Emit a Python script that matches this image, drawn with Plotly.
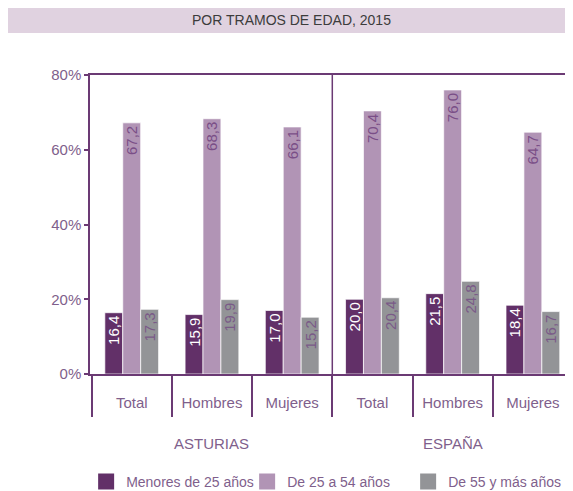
import plotly.graph_objects as go

regions = ["ASTURIAS", "ESPAÑA"]
groups = ["Total", "Hombres", "Mujeres", "Total", "Hombres", "Mujeres"]
series_names = ["Menores de 25 años", "De 25 a 54 años", "De 55 y más años"]
menores_25 = [16.4, 15.9, 17.0, 20.0, 21.5, 18.4]
de_25_54 = [67.2, 68.3, 66.1, 70.4, 76.0, 64.7]
de_55_mas = [17.3, 19.9, 15.2, 20.4, 24.8, 16.7]
y_ticks = [0, 20, 40, 60, 80]
title_text = "POR TRAMOS DE EDAD, 2015"

colors = ["#623068", "#b194b5", "#939497"]
text_colors = ["#ffffff", "#7a4e87", "#7a5a88"]
axis_color = "#6b3a74"
label_color = "#7f5f8c"
FONT = "Liberation Sans, Arial, sans-serif"

xpos = list(range(len(groups)))
fig = go.Figure()
for name, vals, c, tc in zip(series_names, [menores_25, de_25_54, de_55_mas], colors, text_colors):
    fig.add_trace(go.Bar(
        x=xpos, y=vals, name=name, marker=dict(color=c, line=dict(color="rgba(255,255,255,0.7)", width=1)),
        text=[f"{v:.1f}".replace(".", ",") for v in vals],
        textposition="inside", insidetextanchor="end", textangle=-90,
        textfont=dict(color=tc, size=15, family=FONT),
        constraintext="none", showlegend=False,
    ))
    fig.add_trace(go.Scatter(
        x=[None], y=[None], mode="markers", name=name,
        marker=dict(symbol="square", size=16, color=c),
    ))

n = len(groups)
per_region = n // len(regions)
boundaries = [i - 0.5 for i in range(n)]

fig.update_layout(
    width=565, height=483,
    margin=dict(l=82, r=0, t=67, b=117, autoexpand=False),
    paper_bgcolor="white", plot_bgcolor="white",
    barmode="group", bargap=0.33, bargroupgap=0,
    font=dict(family=FONT, color=label_color, size=15),
    showlegend=True,
    legend=dict(orientation="h", xref="paper", yref="paper",
                x=-0.008, xanchor="left", y=-0.361, yanchor="middle",
                font=dict(size=14, color=label_color), itemsizing="trace",
                entrywidth=116, entrywidthmode="pixels",
                tracegroupgap=0, bgcolor="rgba(0,0,0,0)"),
    xaxis=dict(
        range=[-0.52, n - 0.5], tickmode="array", tickvals=xpos, ticktext=groups,
        showline=True, linecolor=axis_color, linewidth=1.5, mirror=True,
        ticks="outside", ticklen=14, tickcolor="rgba(0,0,0,0)",
        tickfont=dict(size=15, color=label_color),
        minor=dict(tickmode="array", tickvals=boundaries, ticks="outside", ticklen=41,
                   tickcolor=axis_color, tickwidth=1.5),
        showgrid=False, zeroline=False, fixedrange=True,
    ),
    yaxis=dict(
        range=[0, 80], tickmode="array", tickvals=y_ticks,
        ticktext=[f"{t}%" for t in y_ticks],
        showline=True, linecolor=axis_color, linewidth=1.5,
        ticks="outside", ticklen=4, tickcolor=axis_color, tickwidth=1.5,
        tickfont=dict(size=15, color=label_color),
        showgrid=False, zeroline=False,
    ),
)

# Title band
fig.add_shape(type="rect", xref="paper", yref="paper", x0=-0.17, x1=1.0, y0=1.1405, y1=1.224,
              fillcolor="#e0d2e0", line=dict(width=0), layer="below")
fig.add_annotation(text=title_text, xref="paper", yref="paper", x=0.417, y=1.184,
                   showarrow=False, font=dict(size=14, color="#3c3c3c", family=FONT),
                   xanchor="center", yanchor="middle")

# Divider between regions
fig.add_shape(type="line", xref="x", yref="paper", x0=per_region - 0.5, x1=per_region - 0.5,
              y0=0, y1=1, line=dict(color=axis_color, width=1.5))

# Region labels
for i, r in enumerate(regions):
    cx = i * per_region + (per_region - 1) / 2
    fig.add_annotation(text=r, xref="x", yref="paper", x=cx, y=-0.234, showarrow=False,
                       font=dict(size=15, color=label_color, family=FONT), yanchor="middle")

fig.write_html("out.html")
